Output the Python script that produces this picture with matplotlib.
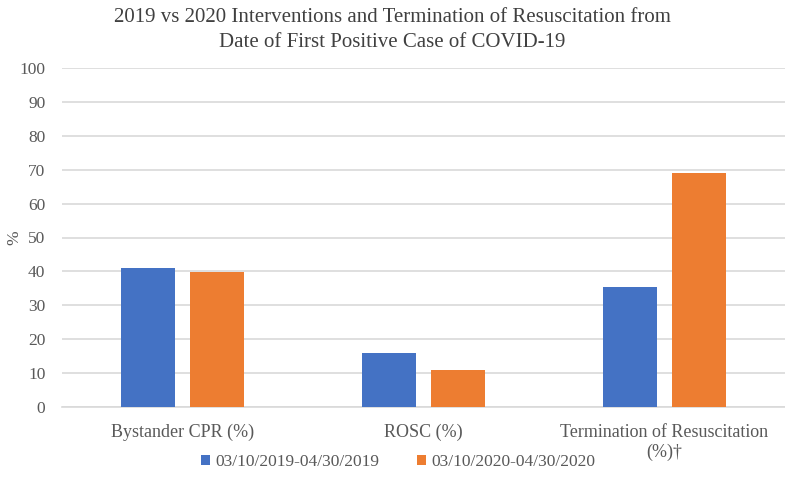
import numpy as np
import matplotlib
matplotlib.use("Agg")
import matplotlib.pyplot as plt

# data
categories = ["Bystander CPR (%)", "ROSC (%)", "Termination of Resuscitation\n(%)\u2020"]
period_2019 = [41.0, 16.0, 35.5]
period_2020 = [39.8, 10.8, 69.1]
series_labels = ["03/10/2019-04/30/2019", "03/10/2020-04/30/2020"]
yticks = list(range(0, 101, 10))

blue = "#4472C4"
orange = "#ED7D31"
text_grey = "#595959"

plt.rcParams["font.family"] = ["Liberation Serif", "DejaVu Serif"]

fig = plt.figure(figsize=(7.85, 4.91), dpi=100)
ax = fig.add_axes([62 / 785, 1 - 407 / 491, 723 / 785, 339 / 491])

x = np.arange(len(categories))
w = 0.224
off = 0.143
ax.bar(x - off, period_2019, w, color=blue, label=series_labels[0], zorder=3)
ax.bar(x + off, period_2020, w, color=orange, label=series_labels[1], zorder=3)

ax.set_xlim(-0.5, 2.5)
ax.set_ylim(0, 100)
ax.set_yticks(yticks)
ax.set_xticks(x)
ax.set_xticklabels(categories, fontsize=13, color=text_grey, linespacing=1.25)
ax.tick_params(axis="y", labelsize=12.5, labelcolor=text_grey, length=0, pad=12)
ax.tick_params(axis="x", length=0, pad=12)
ax.grid(axis="y", color="#D9D9D9", linewidth=1.2, zorder=0)
for s in ["top", "right", "left"]:
    ax.spines[s].set_visible(False)
ax.spines["bottom"].set_color("#D9D9D9")
ax.spines["bottom"].set_linewidth(1.2)

ax.set_ylabel("%", fontsize=12.5, color=text_grey)
ax.yaxis.set_label_coords(-40 / 723, 0.5)

fig.text(0.5, 1 - 30 / 491,
         "2019 vs 2020 Interventions and Termination of Resuscitation from\nDate of First Positive Case of COVID-19",
         ha="center", va="center", fontsize=15, color="#404040", linespacing=1.4)

fig.legend(loc="center", bbox_to_anchor=(398 / 785, 1 - 462 / 491), ncol=2, frameon=False,
           fontsize=12.5, labelcolor=text_grey, handlelength=0.5, handleheight=0.5,
           handletextpad=0.3, columnspacing=2.2)

fig.savefig("out.png", dpi=100)
